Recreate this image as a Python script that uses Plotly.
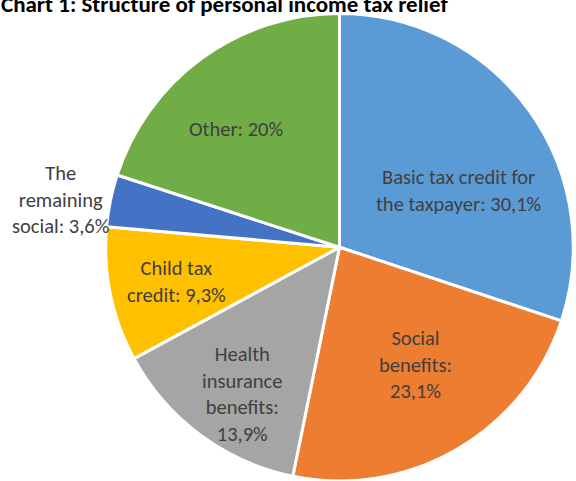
import plotly.graph_objects as go

labels = ["Basic tax credit for the taxpayer", "Social benefits", "Health insurance benefits",
          "Child tax credit", "The remaining social", "Other"]
values = [30.1, 23.1, 13.9, 9.3, 3.6, 20.0]
label_texts = ["Basic tax credit for<br>the taxpayer: 30,1%", "Social<br>benefits:<br>23,1%",
               "Health<br>insurance<br>benefits:<br>13,9%", "Child tax<br>credit: 9,3%",
               "The<br>remaining<br>social: 3,6%", "Other: 20%"]
colors = ["#5B9BD5", "#ED7D31", "#A5A5A5", "#FFC000", "#4472C4", "#70AD47"]

W, H = 576, 481
label_pos = [(458, 190), (415, 364), (242, 394), (176, 281), (60, 199), (236, 129)]

fig = go.Figure(go.Pie(
    labels=labels, values=values, sort=False, direction="clockwise", rotation=0,
    marker=dict(colors=colors, line=dict(color="white", width=3)),
    textinfo="none", hoverinfo="label+percent", showlegend=False,
    domain=dict(x=[103 / W, 1.0], y=[0, 0.972]),
))

font = "Carlito, Lato, sans-serif"
for t, (px, py) in zip(label_texts, label_pos):
    fig.add_annotation(x=px / W, y=1 - py / H, xref="paper", yref="paper", text=t,
                       showarrow=False, xanchor="center", yanchor="middle",
                       font=dict(family=font, size=20.5, color="#404040"))

fig.add_annotation(x=224 / W, y=1 - 4 / H, xref="paper", yref="paper",
                   text="<b>Chart 1: Structure of personal income tax relief</b>",
                   showarrow=False, xanchor="center", yanchor="middle",
                   font=dict(family=font, size=23, color="black"))

fig.update_layout(width=W, height=H, margin=dict(l=0, r=0, t=0, b=0),
                  paper_bgcolor="white", plot_bgcolor="white")
fig.write_html("out.html")
